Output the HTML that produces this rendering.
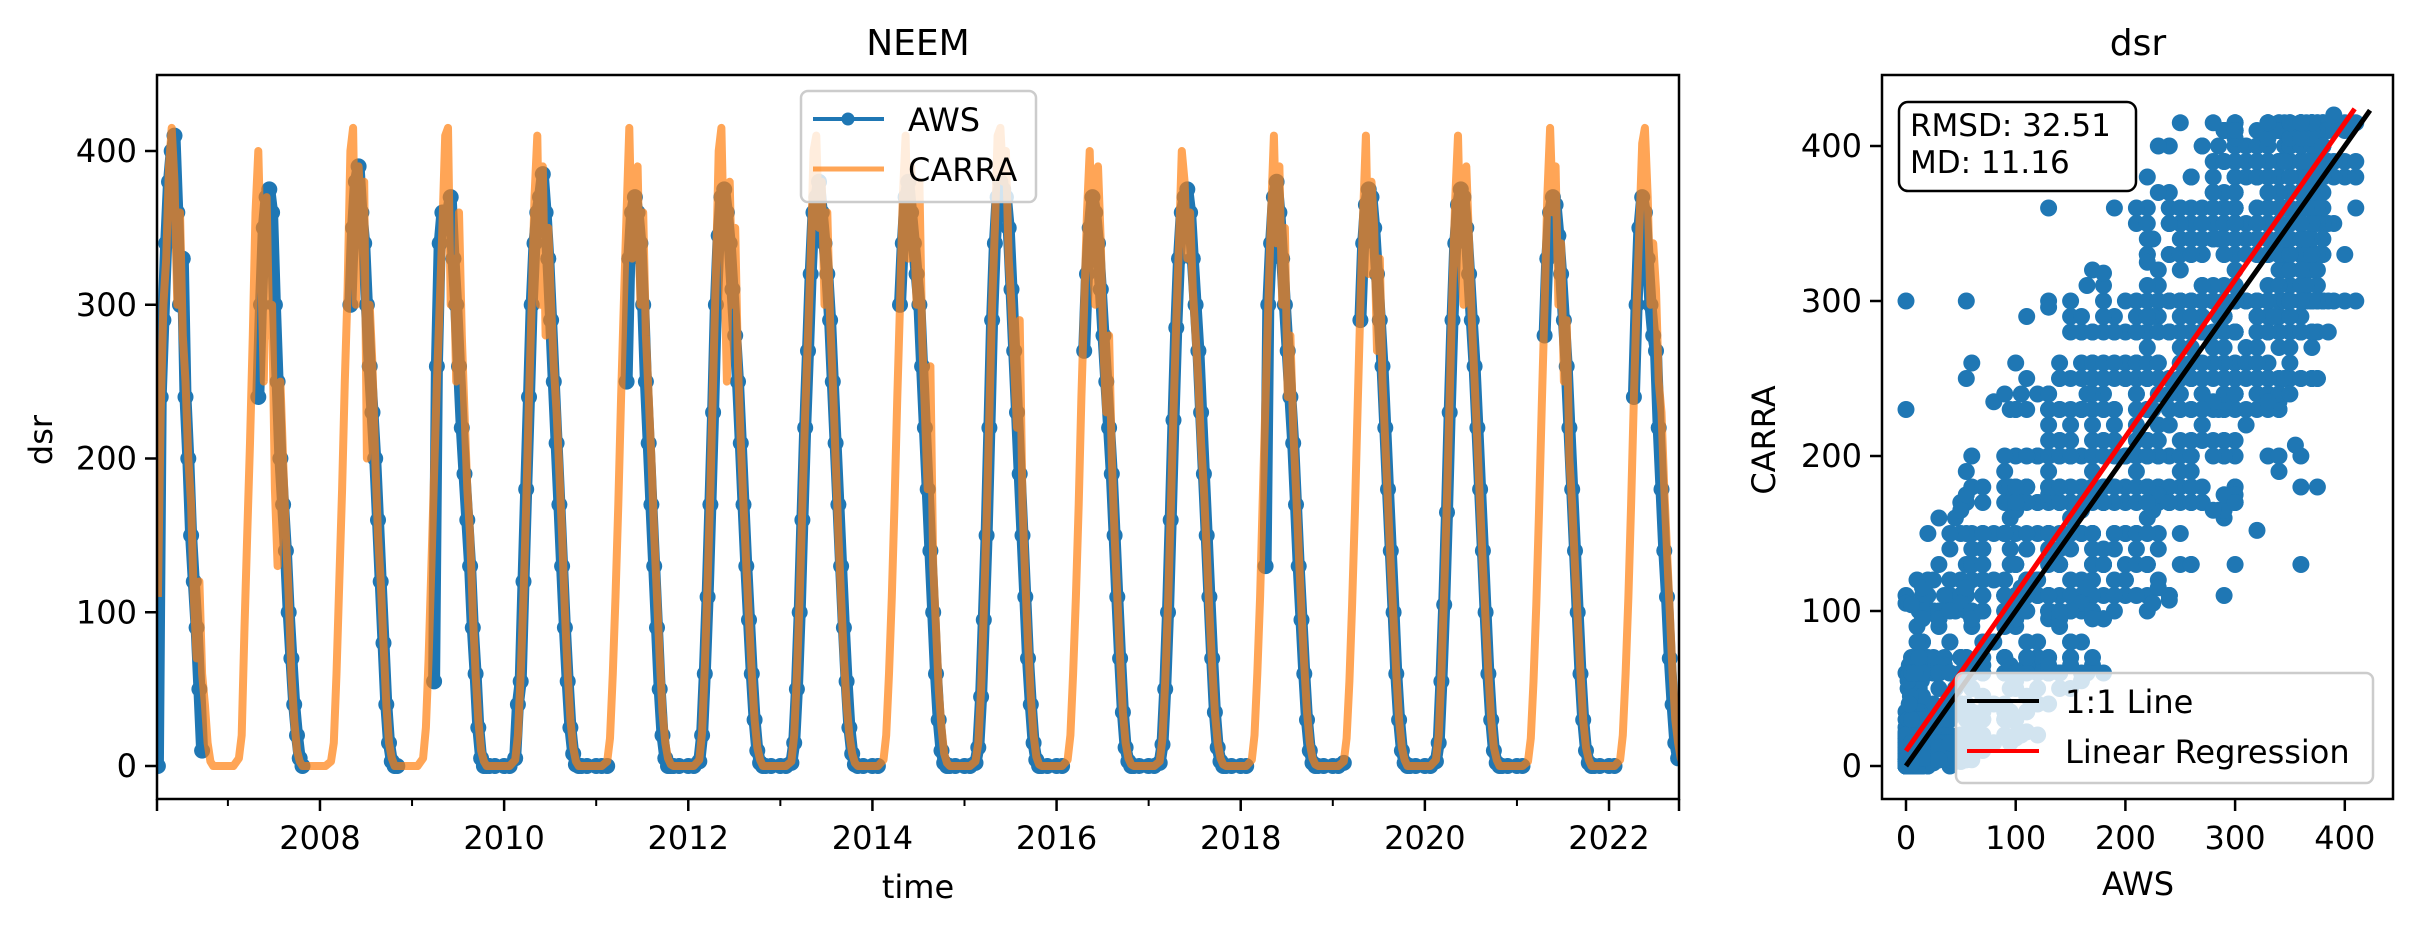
<!DOCTYPE html>
<html><head><meta charset="utf-8"><style>
html,body{margin:0;padding:0;background:#fff;}
svg{display:block;font-family:"DejaVu Sans","Liberation Sans",sans-serif;}
</style></head><body>
<svg id="fig" width="2413" height="926" viewBox="0 0 2413 926" xmlns="http://www.w3.org/2000/svg">
<defs>
<clipPath id="clipL"><rect x="157" y="75" width="1522" height="724"/></clipPath>
<clipPath id="clipR"><rect x="1882" y="75" width="511" height="724"/></clipPath>
</defs>
<rect x="0" y="0" width="2413" height="926" fill="#fff"/>
<g id="left"></g>
<g id="right"></g>
</svg>
<script>
// ---------- data ----------
const years = [2006,2007,2008,2009,2010,2011,2012,2013,2014,2015,2016,2017,2018,2019,2020,2021,2022];
const yearOffsets = [0.00,0.06,0.12,0.15,0.18,0.21,0.24,0.27,0.30,0.33,0.36,0.39,0.42,0.45,0.48,0.51,0.54,0.57,0.60,0.63,0.66,0.69,0.72,0.75,0.78,0.81,0.84,0.90];
const carra = [
[null,null,null,null,null,null,110,230,300,330,390,415,380,300,360,280,250,200,170,110,70,120,60,40,15,3,0,0],
[0,0,5,20,90,150,210,280,360,400,330,250,370,280,300,180,130,250,200,150,110,60,30,10,3,0,0,0],
[0,0,3,15,60,120,180,250,310,400,415,300,390,350,380,200,300,260,200,150,120,80,40,15,5,0,0,0],
[0,0,5,25,70,130,190,250,300,350,410,415,300,330,250,360,280,230,180,150,100,60,30,10,3,0,0,0],
[0,0,4,20,60,110,170,240,300,370,410,300,390,280,350,300,260,230,190,150,100,60,30,12,3,0,0,0],
[0,0,3,18,60,110,170,240,300,360,415,330,380,390,300,360,280,240,200,150,110,70,35,15,5,1,0,0],
[0,0,4,22,65,120,180,250,320,400,415,330,250,380,300,350,260,210,170,130,95,60,30,12,4,0,0,0],
[0,0,3,20,60,110,170,230,280,330,400,410,350,380,300,360,290,250,200,150,110,70,40,20,8,2,0,0],
[0,0,4,20,60,110,170,240,300,370,410,330,390,350,300,380,280,230,180,260,130,90,50,25,8,2,0,0],
[0,0,3,15,50,100,160,230,300,350,410,415,380,400,330,300,260,220,290,170,120,80,45,20,6,1,0,0],
[0,0,4,20,60,110,170,240,300,360,400,330,300,390,340,270,230,280,200,150,110,70,35,15,5,1,0,0],
[0,0,3,18,55,105,165,230,290,340,400,380,330,360,310,280,250,210,180,140,100,65,35,15,5,1,0,0],
[0,0,4,20,60,110,175,240,300,360,410,340,390,300,350,240,280,220,180,140,100,65,35,15,5,1,0,0],
[0,0,3,18,55,105,165,235,300,360,410,320,380,350,270,330,250,210,170,130,95,60,30,12,4,0,0,0],
[0,0,4,20,60,115,175,240,310,370,410,330,300,390,340,290,250,210,170,130,95,60,30,12,4,0,0,0],
[0,0,3,18,55,105,165,235,300,370,415,360,390,300,340,250,290,200,170,130,95,60,30,12,4,0,0,0],
[0,0,4,20,60,110,170,240,300,350,405,415,370,300,340,310,250,230,180,140,100,60,30,15,5,1,0,0]
];
const aws = [
[null,null,null,null,null,null,0,240,290,340,380,400,410,360,300,330,240,200,150,120,90,50,10,null,null,null,null,null],
[null,null,null,null,null,null,null,null,null,240,300,350,370,375,360,300,250,200,170,140,100,70,40,20,5,0,null,null],
[null,null,null,null,null,null,null,null,null,300,350,380,390,360,340,300,260,230,200,160,120,80,40,15,3,0,0,null],
[null,null,null,null,null,null,55,260,340,360,350,360,370,330,300,260,220,190,160,130,90,60,25,5,0,0,0,0],
[0,0,5,40,55,120,180,240,300,340,360,370,385,360,330,290,250,210,170,130,90,55,25,8,1,0,0,0],
[0,0,0,null,null,null,null,null,null,250,330,360,370,360,340,300,250,210,170,130,90,50,20,5,0,0,0,0],
[0,0,3,20,60,110,170,230,300,345,370,375,360,340,310,280,250,210,170,130,95,60,30,10,2,0,0,0],
[0,0,2,15,50,100,160,220,270,320,360,370,380,360,340,320,290,250,210,170,130,90,55,25,8,1,0,0],
[0,0,null,null,null,null,null,null,300,340,370,380,360,340,320,300,260,220,180,140,100,60,30,10,2,0,0,0],
[0,0,2,12,45,95,150,220,290,340,370,380,375,370,350,310,270,230,190,150,110,70,40,15,4,0,0,0],
[0,0,null,null,null,null,null,null,270,320,350,370,360,340,310,280,250,220,190,150,110,70,35,12,3,0,0,0],
[0,0,2,14,50,100,160,225,285,330,360,370,375,360,330,300,270,230,190,150,110,70,35,12,3,0,0,0],
[0,0,null,null,null,null,null,130,300,340,370,380,360,330,300,270,240,210,170,130,95,60,30,10,2,0,0,0],
[0,0,2,null,null,null,null,null,290,340,365,375,370,350,320,290,260,220,180,140,100,60,30,10,2,0,0,0],
[0,0,3,15,55,105,165,230,290,340,365,375,370,350,320,290,260,220,180,140,100,60,30,10,2,0,0,0],
[0,0,null,null,null,null,null,null,280,330,360,370,365,345,320,290,260,220,180,140,100,60,30,10,2,0,0,0],
[0,0,null,null,null,null,null,240,300,350,370,360,330,300,280,270,220,180,140,110,70,40,15,5,null,null,null,null]
];
const extraAws   = [0,5,30,60,80,90,130,180,220,240,300,120,140,150,170,200,240,260,320,355,380,20,40,10,15,25,100,110,320,335,350,360,280,260,50,60,90,200,300,150,330,390,400,8,12,3,70,100,130,160,250,280];
const extraCarra = [105,104,160,200,235,240,296,318,325,350,410,50,50,80,95,120,107,130,152,207,400,150,150,80,95,120,60,70,260,290,300,320,200,180,40,50,90,250,350,200,380,420,410,60,70,40,130,180,230,250,320,360];
const regSlope = 1.013;
const regIntercept = 9.7;
const yTicks = [0,100,200,300,400];
const xMajorYears = [2008,2010,2012,2014,2016,2018,2020,2022];
const xMinorYears = [2007,2009,2011,2013,2015,2017,2019,2021];
const sxTicks = [0,100,200,300,400];
const syTicks = [0,100,200,300,400];
const statsLines = ["RMSD: 32.51","MD: 11.16"];

// ---------- scales ----------
const L = {x0:157,x1:1679,y0:75,y1:799, tmin:2006.23, tmax:2022.76};
const tx = t => L.x0 + (t - L.tmin)/(L.tmax - L.tmin)*(L.x1 - L.x0);
const vy = v => 766 - v*1.5375;
const R = {x0:1882,x1:2393,y0:75,y1:799};
const sx = v => 1906 + v*1.097;
const sy = v => 766 - v*1.55;

const NS = "http://www.w3.org/2000/svg";
function mk(tag, parent, attrs){const e=document.createElementNS(NS,tag);for(const k in attrs)e.setAttribute(k,attrs[k]);parent.appendChild(e);return e;}
const left = document.getElementById('left');
const right = document.getElementById('right');

// ---------- left panel ----------
const plotL = mk('g', left, {'clip-path':'url(#clipL)'});



function segments(series){
  const segs=[]; let cur=[];
  years.forEach((y,yi)=>{ yearOffsets.forEach((o,i)=>{
    const v=series[yi][i];
    if(v===null){ if(cur.length){segs.push(cur);cur=[];} }
    else cur.push([y+o,v]);
  });});
  if(cur.length) segs.push(cur);
  return segs;
}
const awsG = mk('g', plotL, {});


segments(aws).forEach(seg=>{
  const p = mk('path', awsG, {d: seg.map((pt,i)=>(i?'L':'M')+tx(pt[0]).toFixed(1)+' '+vy(pt[1]).toFixed(1)).join(''), fill:'none', stroke:'#1f77b4','stroke-width':12,'stroke-linejoin':'round','stroke-linecap':'round'});
  
  
  seg.forEach(pt=>{
    const c = mk('circle', awsG, {cx:tx(pt[0]).toFixed(1), cy:vy(pt[1]).toFixed(1), r:8, fill:'#1f77b4'});
    
    
  });
});
const carG = mk('g', plotL, {opacity:0.7});


segments(carra).forEach(seg=>{
  const p = mk('path', carG, {d: seg.map((pt,i)=>(i?'L':'M')+tx(pt[0]).toFixed(1)+' '+vy(pt[1]).toFixed(1)).join(''), fill:'none', stroke:'#ff7f0e','stroke-width':8,'stroke-linejoin':'round'});
  
  
});

const frameL = mk('rect', left, {x:L.x0,y:L.y0,width:L.x1-L.x0,height:L.y1-L.y0,fill:'none',stroke:'#000','stroke-width':2.5});


yTicks.forEach(v=>{
  const y=vy(v);
  const t=mk('line',left,{x1:L.x0-12,x2:L.x0,y1:y,y2:y,stroke:'#000','stroke-width':2.5});
  
  
  const l=mk('text',left,{x:L.x0-20,y:y+11,'text-anchor':'end','font-size':32,fill:'#000'});
  l.textContent=v;
  
  
});
xMajorYears.forEach(yr=>{
  const x=tx(yr);
  const t=mk('line',left,{x1:x,x2:x,y1:L.y1,y2:L.y1+12,stroke:'#000','stroke-width':2.5});
  
  
  const l=mk('text',left,{x:x,y:849,'text-anchor':'middle','font-size':32,fill:'#000'});
  l.textContent=yr;
  
  
});
xMinorYears.forEach(yr=>{
  const x=tx(yr);
  const t=mk('line',left,{x1:x,x2:x,y1:L.y1,y2:L.y1+7,stroke:'#000','stroke-width':2});
  
  
});
[L.x0,L.x1].forEach(x=>{
  const t=mk('line',left,{x1:x,x2:x,y1:L.y1,y2:L.y1+12,stroke:'#000','stroke-width':2.5});
  
  
});
</script>
<script>
(function(){
const left=document.getElementById('left');
const NS="http://www.w3.org/2000/svg";
function txt(s,x,y,size,rot){const e=document.createElementNS(NS,'text');e.setAttribute('x',x);e.setAttribute('y',y);e.setAttribute('text-anchor','middle');e.setAttribute('font-size',size);if(rot)e.setAttribute('transform','rotate(-90 '+x+' '+y+')');e.textContent=s;left.appendChild(e);return e;}
let e;
e=txt('NEEM',918,55,36);


e=txt('time',918,898,32);


e=txt('dsr',52,440,32,true);


})();
</script>
<script>
(function(){
const left=document.getElementById('left');
const NS="http://www.w3.org/2000/svg";
function mk(tag,attrs){const e=document.createElementNS(NS,tag);for(const k in attrs)e.setAttribute(k,attrs[k]);left.appendChild(e);return e;}
let e;
e=mk('rect',{x:801,y:91,width:235,height:111,rx:7,fill:'#fff','fill-opacity':0.8,stroke:'#cccccc','stroke-width':2.5});


e=mk('line',{x1:813,x2:884,y1:119,y2:119,stroke:'#1f77b4','stroke-width':4});


e=mk('circle',{cx:848,cy:119,r:6.5,fill:'#1f77b4'});


e=mk('text',{x:908,y:131,'font-size':32});e.textContent='AWS';


e=mk('line',{x1:813,x2:884,y1:169,y2:169,stroke:'#ff7f0e','stroke-opacity':0.7,'stroke-width':5});


e=mk('text',{x:908,y:181,'font-size':32});e.textContent='CARRA';


})();
</script>
<script>
(function(){
const right=document.getElementById('right');
const NS="http://www.w3.org/2000/svg";
function mk(tag,parent,attrs){const e=document.createElementNS(NS,tag);for(const k in attrs)e.setAttribute(k,attrs[k]);parent.appendChild(e);return e;}
const plot=mk('g',right,{'clip-path':'url(#clipR)'});


const pts=[];
years.forEach((y,yi)=>yearOffsets.forEach((o,i)=>{
  const a=aws[yi][i];
  if(a===null) return;
  [-2,-1,0,1,2].forEach(d=>{
    const j=i+d;
    if(j<0||j>=yearOffsets.length) return;
    const c=carra[yi][j];
    if(c!==null) pts.push([a,c]);
  });
}));
extraAws.forEach((a,i)=>pts.push([a,extraCarra[i]]));
pts.forEach(p=>{
  const c=mk('circle',plot,{cx:sx(p[0]).toFixed(1),cy:sy(p[1]).toFixed(1),r:8.5,fill:'#1f77b4'});
  
  
});
let e;
e=mk('line',plot,{x1:sx(0),y1:sy(0),x2:sx(423),y2:sy(423),stroke:'#000','stroke-width':5});


e=mk('line',plot,{x1:sx(0),y1:sy(regIntercept),x2:sx(409),y2:sy(regIntercept+regSlope*409),stroke:'#ff0000','stroke-width':5});



e=mk('rect',right,{x:R.x0,y:R.y0,width:R.x1-R.x0,height:R.y1-R.y0,fill:'none',stroke:'#000','stroke-width':2.5});


syTicks.forEach(v=>{
  const y=sy(v);
  let t=mk('line',right,{x1:R.x0-12,x2:R.x0,y1:y,y2:y,stroke:'#000','stroke-width':2.5});
  
  
  t=mk('text',right,{x:R.x0-20,y:y+11,'text-anchor':'end','font-size':32});t.textContent=v;
  
  
});
sxTicks.forEach(v=>{
  const x=sx(v);
  let t=mk('line',right,{x1:x,x2:x,y1:R.y1,y2:R.y1+12,stroke:'#000','stroke-width':2.5});
  
  
  t=mk('text',right,{x:x,y:849,'text-anchor':'middle','font-size':32});t.textContent=v;
  
  
});
e=mk('text',right,{x:2138,y:55,'text-anchor':'middle','font-size':36});e.textContent='dsr';


e=mk('text',right,{x:2138,y:895,'text-anchor':'middle','font-size':32});e.textContent='AWS';


e=mk('text',right,{x:1775,y:440,'text-anchor':'middle','font-size':32,transform:'rotate(-90 1775 440)'});e.textContent='CARRA';



e=mk('rect',right,{x:1899,y:102,width:237,height:89,rx:9,fill:'#fff',stroke:'#000','stroke-width':2.5});


statsLines.forEach((s,i)=>{
  const t=mk('text',right,{x:1910,y:136+i*37,'font-size':31});t.textContent=s;
  
  
});

e=mk('rect',right,{x:1956,y:673,width:417,height:110,rx:7,fill:'#fff','fill-opacity':0.8,stroke:'#cccccc','stroke-width':2.5});


e=mk('line',right,{x1:1967,x2:2039,y1:701,y2:701,stroke:'#000','stroke-width':4});


e=mk('text',right,{x:2065,y:713,'font-size':32});e.textContent='1:1 Line';


e=mk('line',right,{x1:1967,x2:2039,y1:751,y2:751,stroke:'#ff0000','stroke-width':4});


e=mk('text',right,{x:2065,y:763,'font-size':32});e.textContent='Linear Regression';


})();
</script>
</body></html>
